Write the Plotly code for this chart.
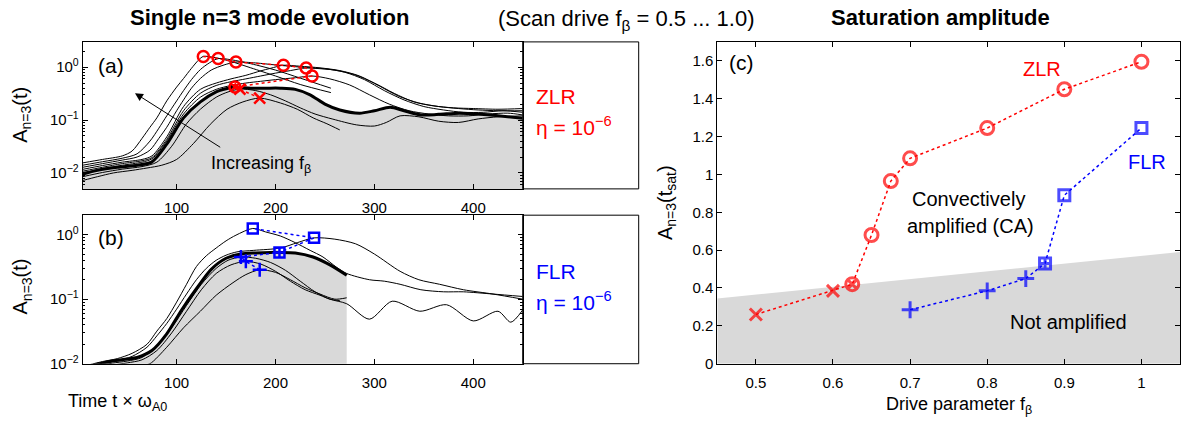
import plotly.graph_objects as go

# ---------------- Panel (a): ZLR scan, A_{n=3}(t) ----------------
a_t_f100 = [5, 25, 45, 55, 65, 73, 80, 90, 100, 107, 115, 122, 127, 140, 155, 175, 200, 225, 256]
a_A_f100 = [0.0155, 0.018, 0.021, 0.026, 0.045, 0.073, 0.11, 0.23, 0.42, 0.61, 0.95, 1.35, 1.595, 1.5, 1.28, 0.97, 0.68, 0.47, 0.33]
a_t_f090 = [5, 25, 45, 60, 73, 82, 90, 100, 107, 115, 124, 133, 142, 155, 175, 200, 225, 256]
a_A_f090 = [0.014, 0.0163, 0.019, 0.023, 0.04, 0.07, 0.12, 0.23, 0.36, 0.58, 0.9, 1.2, 1.45, 1.38, 1.16, 0.88, 0.62, 0.40]
a_t_f080 = [5, 25, 45, 60, 73, 82, 90, 100, 107, 115, 124, 135, 148, 160, 180, 200, 220, 240, 260, 280, 300, 320, 340, 360, 380, 400, 425, 450]
a_A_f080 = [0.0128, 0.015, 0.0175, 0.02, 0.027, 0.045, 0.073, 0.15, 0.24, 0.4, 0.61, 0.88, 1.1, 1.245, 1.2, 1.1, 1.02, 0.95, 0.88, 0.72, 0.5, 0.32, 0.22, 0.185, 0.17, 0.165, 0.16, 0.165]
a_t_f070 = [5, 25, 45, 65, 75, 90, 107, 124, 140, 155, 170, 185, 195, 208, 225, 245, 265, 285, 305, 325, 345, 365, 385, 405, 425, 450]
a_A_f070 = [0.0117, 0.0138, 0.016, 0.018, 0.021, 0.048, 0.18, 0.38, 0.5, 0.6, 0.7, 0.85, 0.95, 1.085, 1.04, 0.97, 0.86, 0.68, 0.44, 0.28, 0.21, 0.18, 0.165, 0.155, 0.15, 0.15]
a_t_f0675 = [5, 25, 45, 65, 75, 90, 107, 124, 140, 155, 170, 185, 200, 215, 231, 250, 270, 290, 310, 330, 350, 370, 390, 410, 430, 450]
a_A_f0675 = [0.0108, 0.0128, 0.015, 0.017, 0.0195, 0.043, 0.15, 0.32, 0.45, 0.53, 0.6, 0.68, 0.77, 0.86, 0.965, 0.93, 0.8, 0.58, 0.36, 0.24, 0.18, 0.155, 0.14, 0.14, 0.15, 0.14]
a_t_f065 = [5, 25, 45, 65, 75, 90, 107, 124, 140, 155, 170, 185, 200, 220, 237, 255, 275, 295, 315, 335, 355, 375, 395, 415, 435, 450]
a_A_f065 = [0.0102, 0.012, 0.014, 0.016, 0.0185, 0.04, 0.13, 0.27, 0.38, 0.45, 0.5, 0.54, 0.58, 0.63, 0.68, 0.6, 0.46, 0.3, 0.2, 0.15, 0.13, 0.12, 0.12, 0.13, 0.135, 0.125]
a_t_f0625 = [5, 20, 40, 60, 75, 90, 107, 124, 140, 150, 159, 175, 190, 205, 220, 235, 250, 265, 285, 300, 316, 330, 347, 365, 386, 405, 425, 450]
a_A_f0625 = [0.0095, 0.0112, 0.0128, 0.014, 0.0162, 0.035, 0.11, 0.22, 0.34, 0.39, 0.42, 0.40, 0.40, 0.40, 0.38, 0.30, 0.20, 0.155, 0.135, 0.15, 0.175, 0.15, 0.125, 0.128, 0.135, 0.13, 0.12, 0.108]
a_t_f060 = [5, 25, 45, 65, 80, 95, 110, 124, 140, 152, 164, 180, 195, 210, 225, 240, 258, 282, 300, 312, 326, 345, 365, 385, 405, 425, 450]
a_A_f060 = [0.0085, 0.0102, 0.0118, 0.0132, 0.016, 0.032, 0.085, 0.16, 0.27, 0.34, 0.385, 0.36, 0.30, 0.23, 0.17, 0.13, 0.104, 0.081, 0.077, 0.09, 0.12, 0.115, 0.095, 0.09, 0.105, 0.115, 0.12]
a_t_f050 = [5, 20, 36, 55, 70, 85, 100, 117, 134, 151, 167, 184, 205, 222, 238, 252, 265]
a_A_f050 = [0.0072, 0.0085, 0.010, 0.0112, 0.0124, 0.014, 0.018, 0.036, 0.083, 0.16, 0.22, 0.26, 0.21, 0.16, 0.11, 0.085, 0.065]

# ---------------- Panel (b): FLR scan ----------------
b_t_f100 = [10, 25, 40, 55, 70, 80, 90, 100, 110, 120, 130, 140, 150, 160, 177, 190, 205, 220, 235, 248, 262, 272, 295, 310, 326, 347, 370, 390, 420, 450]
b_A_f100 = [0.0095, 0.0108, 0.012, 0.0145, 0.02, 0.032, 0.05, 0.09, 0.17, 0.32, 0.47, 0.62, 0.8, 0.98, 1.245, 1.1, 0.95, 0.75, 0.57, 0.45, 0.31, 0.25, 0.2, 0.19, 0.17, 0.14, 0.13, 0.13, 0.12, 0.11]
b_t_f090 = [10, 25, 40, 55, 70, 80, 90, 100, 110, 120, 130, 140, 150, 161, 178, 205, 222, 239, 260, 281, 300, 326, 345, 366, 390, 420, 450]
b_A_f090 = [0.009, 0.0102, 0.0112, 0.013, 0.018, 0.027, 0.042, 0.07, 0.12, 0.2, 0.3, 0.4, 0.48, 0.54, 0.57, 0.62, 0.75, 0.89, 0.85, 0.72, 0.5, 0.27, 0.2, 0.17, 0.14, 0.12, 0.1]
b_t_f0875 = [5, 20, 35, 50, 60, 75, 90, 105, 120, 135, 150, 165, 180, 195, 204, 220, 238, 255, 272]
b_A_f0875 = [0.0085, 0.0098, 0.011, 0.0118, 0.0125, 0.016, 0.029, 0.068, 0.145, 0.29, 0.43, 0.5, 0.52, 0.53, 0.53, 0.52, 0.45, 0.34, 0.235]
b_t_f085 = [5, 20, 35, 50, 65, 80, 95, 110, 125, 140, 152, 165, 180, 195, 210, 225, 240, 255, 272, 295, 318, 346, 373, 400, 425, 438, 450]
b_A_f085 = [0.008, 0.0092, 0.0102, 0.011, 0.0125, 0.019, 0.036, 0.08, 0.17, 0.3, 0.4, 0.45, 0.43, 0.37, 0.28, 0.19, 0.13, 0.1, 0.085, 0.049, 0.093, 0.065, 0.082, 0.046, 0.065, 0.044, 0.068]
b_t_f080 = [5, 20, 35, 50, 65, 80, 95, 110, 125, 140, 155, 170, 185, 200, 215, 230, 245, 255, 265]
b_A_f080 = [0.0075, 0.0085, 0.0095, 0.0103, 0.0115, 0.016, 0.03, 0.065, 0.14, 0.25, 0.34, 0.385, 0.35, 0.27, 0.19, 0.14, 0.115, 0.1, 0.095]
b_t_f070 = [30, 50, 65, 73, 90, 107, 124, 140, 157, 170, 184, 200, 215, 230, 245, 260, 272]
b_A_f070 = [0.0075, 0.0085, 0.0095, 0.01, 0.018, 0.036, 0.065, 0.115, 0.18, 0.24, 0.285, 0.26, 0.2, 0.15, 0.12, 0.1, 0.105]

# ---------------- Saturation points ----------------
f_zlr = [0.5, 0.6, 0.625, 0.65, 0.675, 0.7, 0.8, 0.9, 1.0]
A_zlr = [0.26, 0.385, 0.42, 0.68, 0.965, 1.085, 1.245, 1.45, 1.595]
t_zlr = [184, 164, 159, 237, 231, 208, 160, 142, 127]
sym_zlr = ["x-thin", "x-thin", "circle-x-open", "circle-open", "circle-open", "circle-open", "circle-open", "circle-open", "circle-open"]

f_flr = [0.7, 0.8, 0.85, 0.875, 0.9, 1.0]
A_flr = [0.285, 0.385, 0.45, 0.53, 0.89, 1.245]
t_flr = [184, 170, 165, 204, 239, 177]
sym_flr = ["cross-thin", "cross-thin", "cross-thin", "square-cross-open", "square-open", "square-open"]

# Not-amplified region boundary in panel (c)
gray_f = [0.45, 1.05, 1.05, 0.45]
gray_A = [0.345, 0.59, 0.0, 0.0]

x_ticks_t = [100, 200, 300, 400]
y_ticks_log = [0.01, 0.1, 1]
y_ticktext_log = ["10<sup>\u22122</sup>", "10<sup>\u22121</sup>", "10<sup>0</sup>"]
x_ticks_f = [0.5, 0.6, 0.7, 0.8, 0.9, 1.0]
x_ticktext_f = ["0.5", "0.6", "0.7", "0.8", "0.9", "1"]
y_ticks_c = [0, 0.2, 0.4, 0.6, 0.8, 1.0, 1.2, 1.4, 1.6]
y_ticktext_c = ["0", "0.2", "0.4", "0.6", "0.8", "1", "1.2", "1.4", "1.6"]

RED = "#ff0000"
BLUE = "#0000ff"
GRAY = "#d9d9d9"
FONT = "Liberation Sans, Arial, sans-serif"
W, H = 1181, 425

def px(x):
    return x / W

def py(y):
    return 1 - y / H

fig = go.Figure()

# ---- panel a ----
thick_a_t, thick_a_A = a_t_f0625, a_A_f0625
fig.add_trace(go.Scatter(x=thick_a_t + [thick_a_t[-1], thick_a_t[0]], y=thick_a_A + [1e-4, 1e-4],
                         fill="toself", fillcolor=GRAY, line=dict(width=0), mode="lines",
                         xaxis="x", yaxis="y", hoverinfo="skip"))
curves_a = [(a_t_f100, a_A_f100), (a_t_f090, a_A_f090), (a_t_f080, a_A_f080), (a_t_f070, a_A_f070),
            (a_t_f0675, a_A_f0675), (a_t_f065, a_A_f065), (a_t_f060, a_A_f060), (a_t_f050, a_A_f050)]
for tt, aa in curves_a:
    fig.add_trace(go.Scatter(x=tt, y=aa, mode="lines", line=dict(color="black", width=1, shape="spline", smoothing=0.8),
                             xaxis="x", yaxis="y"))
fig.add_trace(go.Scatter(x=thick_a_t, y=thick_a_A, mode="lines", line=dict(color="black", width=3, shape="spline", smoothing=0.8),
                         xaxis="x", yaxis="y"))
fig.add_trace(go.Scatter(x=t_zlr, y=A_zlr, mode="lines", line=dict(color=RED, width=1.5, dash="dot"),
                         xaxis="x", yaxis="y"))
fig.add_trace(go.Scatter(x=t_zlr, y=A_zlr, mode="markers",
                         marker=dict(symbol=sym_zlr, size=11, color=RED, line=dict(color=RED, width=2.5)),
                         xaxis="x", yaxis="y"))

# ---- panel b ----
thick_b_t, thick_b_A = b_t_f0875, b_A_f0875
fig.add_trace(go.Scatter(x=thick_b_t + [thick_b_t[-1], thick_b_t[0]], y=thick_b_A + [1e-4, 1e-4],
                         fill="toself", fillcolor=GRAY, line=dict(width=0), mode="lines",
                         xaxis="x2", yaxis="y2", hoverinfo="skip"))
curves_b = [(b_t_f100, b_A_f100), (b_t_f090, b_A_f090), (b_t_f085, b_A_f085), (b_t_f080, b_A_f080), (b_t_f070, b_A_f070)]
for tt, aa in curves_b:
    fig.add_trace(go.Scatter(x=tt, y=aa, mode="lines", line=dict(color="black", width=1, shape="spline", smoothing=0.8),
                             xaxis="x2", yaxis="y2"))
fig.add_trace(go.Scatter(x=thick_b_t, y=thick_b_A, mode="lines", line=dict(color="black", width=3, shape="spline", smoothing=0.8),
                         xaxis="x2", yaxis="y2"))
fig.add_trace(go.Scatter(x=t_flr, y=A_flr, mode="lines", line=dict(color=BLUE, width=1.5, dash="dot"),
                         xaxis="x2", yaxis="y2"))
fig.add_trace(go.Scatter(x=t_flr, y=A_flr, mode="markers",
                         marker=dict(symbol=sym_flr, size=10, color=BLUE, line=dict(color=BLUE, width=2.5)),
                         xaxis="x2", yaxis="y2"))

# ---- panel c ----
fig.add_trace(go.Scatter(x=gray_f, y=gray_A, fill="toself", fillcolor=GRAY, line=dict(width=0), mode="lines",
                         xaxis="x3", yaxis="y3", hoverinfo="skip"))
fig.add_trace(go.Scatter(x=f_zlr, y=A_zlr, mode="lines", line=dict(color=RED, width=1.5, dash="dot"),
                         xaxis="x3", yaxis="y3"))
fig.add_trace(go.Scatter(x=f_flr, y=A_flr, mode="lines", line=dict(color=BLUE, width=1.5, dash="dot"),
                         xaxis="x3", yaxis="y3"))
size_zlr_c = [12 if s == "x-thin" else 13 for s in sym_zlr]
size_flr_c = [12 if s == "cross-thin" else 11 for s in sym_flr]
fig.add_trace(go.Scatter(x=f_zlr, y=A_zlr, mode="markers",
                         marker=dict(symbol=sym_zlr, size=size_zlr_c, color=RED, line=dict(color=RED, width=3)),
                         xaxis="x3", yaxis="y3"))
fig.add_trace(go.Scatter(x=f_flr, y=A_flr, mode="markers",
                         marker=dict(symbol=sym_flr, size=size_flr_c, color=BLUE, line=dict(color=BLUE, width=3)),
                         xaxis="x3", yaxis="y3"))

minor_log = [m * 10 ** e for e in (-3, -2, -1, 0) for m in range(2, 10)]

ax_common = dict(showline=True, linecolor="black", linewidth=1, mirror="ticks", ticks="inside", ticklen=5,
                 tickcolor="black", showgrid=False, zeroline=False,
                 tickfont=dict(family=FONT, size=15, color="black"))

dom_x_ab = [px(82.7), px(522.7)]
dom_y_a = [py(192.5), py(42.7)]
dom_y_b = [py(370.7), py(219.3)]
dom_x_c = [px(717.3), px(1180)]
dom_y_c = [py(370.7), py(42.7)]

fig.update_layout(
    width=W, height=H, margin=dict(l=0, r=0, t=0, b=0),
    paper_bgcolor="white", plot_bgcolor="white", showlegend=False,
    font=dict(family=FONT, color="black"),
    xaxis=dict(domain=dom_x_ab, range=[5, 450], tickmode="array", tickvals=x_ticks_t, anchor="y",
               ticklabelstandoff=5, **ax_common),
    yaxis=dict(domain=dom_y_a, type="log", range=[-2.301, 0.477], tickmode="array", tickvals=y_ticks_log,
               ticktext=y_ticktext_log, anchor="x",
               minor=dict(tickmode="array", tickvals=minor_log, ticks="inside", ticklen=2.5, tickcolor="black"),
               **ax_common),
    xaxis2=dict(domain=dom_x_ab, range=[5, 450], tickmode="array", tickvals=x_ticks_t, anchor="y2",
                ticklabelstandoff=5, **ax_common),
    yaxis2=dict(domain=dom_y_b, type="log", range=[-2, 0.301], tickmode="array", tickvals=y_ticks_log,
                ticktext=y_ticktext_log, anchor="x2",
                minor=dict(tickmode="array", tickvals=minor_log, ticks="inside", ticklen=2.5, tickcolor="black"),
                **ax_common),
    xaxis3=dict(domain=dom_x_c, range=[0.45, 1.05], tickmode="array", tickvals=x_ticks_f, ticktext=x_ticktext_f,
                anchor="y3", ticklabelstandoff=5, **ax_common),
    yaxis3=dict(domain=dom_y_c, range=[0, 1.7], tickmode="array", tickvals=y_ticks_c, ticktext=y_ticktext_c,
                anchor="x3", **ax_common),
)

# side boxes
for y0, y1 in (dom_y_a, dom_y_b):
    fig.add_shape(type="rect", xref="paper", yref="paper", x0=px(522.7), x1=px(638.7), y0=y0, y1=y1,
                  line=dict(color="black", width=1), fillcolor="rgba(0,0,0,0)")

def ann(text, x, y, size, color="black", xanchor="left", yanchor="middle", angle=0):
    fig.add_annotation(text=text, x=px(x), y=py(y), xref="paper", yref="paper", showarrow=False,
                       xanchor=xanchor, yanchor=yanchor, textangle=angle,
                       font=dict(family=FONT, size=size, color=color))

ann("<b>Single n=3 mode evolution</b>", 128, 18, 22)
ann("(Scan drive f<sub>\u03b2</sub> = 0.5 ... 1.0)", 496, 20, 22)
ann("<b>Saturation amplitude</b>", 941, 18, 22, xanchor="center")

ann("(a)", 96, 67, 21)
ann("(b)", 96, 242, 21)
ann("(c)", 727, 64, 21)

ann("ZLR", 534, 98, 21, RED)
ann("\u03b7 = 10<sup>\u22126</sup>", 534, 128, 21, RED)
ann("FLR", 534, 277, 21, BLUE)
ann("\u03b7 = 10<sup>\u22126</sup>", 534, 307, 21, BLUE)

ann("A<sub>n=3</sub>(t)", 22, 117, 20, xanchor="center", angle=-90)
ann("A<sub>n=3</sub>(t)", 22, 292, 20, xanchor="center", angle=-90)
ann("A<sub>n=3</sub>(t<sub>sat</sub>)", 666, 207, 20, xanchor="center", angle=-90)

ann("Time t \u00d7 \u03c9<sub>A0</sub>", 66, 410, 18)
ann("Drive parameter f<sub>\u03b2</sub>", 884, 413, 18)

ann("Increasing f<sub>\u03b2</sub>", 209, 168, 18)

ann("ZLR", 1042, 70, 20, RED, xanchor="center")
ann("FLR", 1147, 165, 20, BLUE, xanchor="center")
ann("Convectively", 968, 203, 20, xanchor="center")
ann("amplified (CA)", 970, 230, 20, xanchor="center")
ann("Not amplified", 1068, 328, 20, xanchor="center")

# arrow "Increasing f_beta"
fig.add_annotation(x=57.9, y=-0.493, xref="x", yref="y", ax=86.7, ay=55, axref="pixel", ayref="pixel",
                   showarrow=True, arrowhead=2, arrowsize=1.6, arrowwidth=1, arrowcolor="black", text="")

fig.write_html("out.html")
